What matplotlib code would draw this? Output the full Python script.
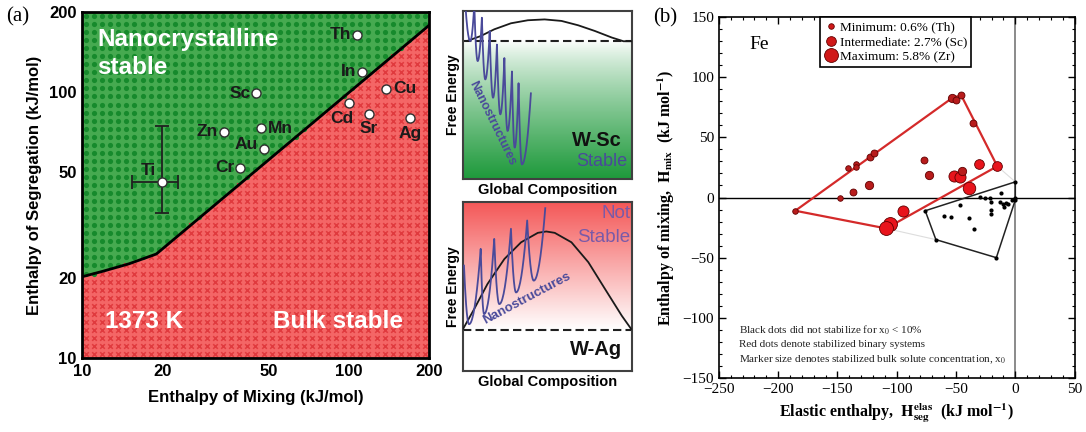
import numpy as np
import matplotlib.pyplot as plt
from matplotlib.colors import LinearSegmentedColormap
from matplotlib.lines import Line2D

plt.rcParams['mathtext.fontset'] = 'stix'

# -----------------------------
# DATA panel (a): W alloys, log-log map
# -----------------------------
elements = ['Th', 'In', 'Sc', 'Cu', 'Cd', 'Sr', 'Ag', 'Mn', 'Zn', 'Au', 'Cr', 'Ti']
h_mix = [107, 112, 45, 138, 100, 119, 170, 47, 34, 48, 39, 20]
h_seg = [164, 119, 99, 103, 91, 83, 80, 73, 71, 61, 52, 46]
# label offsets (points) and alignment
lab_dx = [-4, -4, -4, 5, -5, 0, 0, 5, -4, -4, -4, -10]
lab_dy = [0, 0, 0, 0, -11, -11, -11, 0, 0, 3, 0, 8]
lab_ha = ['right', 'right', 'right', 'left', 'center', 'center', 'center', 'left',
          'right', 'right', 'right', 'center']

ti_xerr = [[4.6], [2.9]]
ti_yerr = [[11], [28.5]]

# stability boundary at 1373 K
bound_x = [10, 12, 15, 19, 200]
bound_y = [20.2, 21.2, 22.6, 24.6, 178]

# -----------------------------
# DATA panel (b): Fe alloys
# -----------------------------
red_x = [-185.6, -147.8, -141.4, -134.5, -134.0, -136.7, -122.4, -119.3, -123.0,
         -76.8, -72.6, -53.0, -50.3, -45.6, -35.9, -30.9, -15.2, -51.7, -47.0,
         -45.0, -38.7, -94.5, -105.5, -109.0]
red_y = [-11.0, -0.8, 24.6, 28.0, 25.4, 4.7, 33.6, 36.9, 10.0,
         30.9, 19.0, 82.9, 80.7, 84.9, 62.2, 27.6, 26.0, 17.7, 17.1,
         21.8, 8.0, -11.0, -21.6, -25.7]
red_ms = [4, 4, 4, 4, 4, 5, 5, 5, 6,
          5, 6, 6, 5, 5, 5, 7, 7, 8, 8,
          6, 9, 8, 10, 10]

black_x = [-60.0, -54.4, -47.0, -38.7, -35.0, -29.8, -25.7, -21.5, -20.2, -20.7,
           -20.2, -11.9, -13.0, -10.5, -9.7, -7.7, -6.0, -2.8, -0.6,
           -76.0, 0.0, 0.0, -16.0, -67.0]
black_y = [-15.0, -15.8, -6.4, -17.4, -26.3, 0.6, -0.8, 0.0, -3.6, -10.5,
           -13.3, 3.9, -3.6, -5.0, -7.7, -4.4, -5.0, -2.2, -0.8,
           -11.0, 13.0, -2.0, -50.0, -35.0]

red_hull_x = [-185.6, -53.0, -45.6, -15.2, -109.0, -185.6]
red_hull_y = [-11.0, 82.9, 84.9, 26.0, -25.7, -11.0]
black_hull_x = [-76.0, 0.0, 0.0, -16.0, -67.0, -76.0]
black_hull_y = [-11.0, 13.0, -2.0, -50.0, -35.0, -11.0]

legend_labels = ['Minimum: 0.6% (Th)', 'Intermediate: 2.7% (Sc)', 'Maximum: 5.8% (Zr)']
legend_ms = [4, 7, 10]

# -----------------------------
# SCHEMATIC curves (normalised box coordinates)
# -----------------------------
sc_dash = 0.82
sc_hump_x = [0.026, 0.105, 0.185, 0.284, 0.384, 0.483, 0.583, 0.682, 0.781, 0.881, 0.950, 1.0]
sc_hump_y = [0.822, 0.851, 0.891, 0.927, 0.945, 0.950, 0.941, 0.915, 0.881, 0.842, 0.820, 0.820]
sc_peak_x = [0.014, 0.067, 0.112, 0.158, 0.201, 0.245, 0.290, 0.329, 0.402]
sc_peak_y = [1.04, 1.04, 0.96, 0.88, 0.80, 0.72, 0.64, 0.57, 0.51]
sc_min_x = [0.043, 0.087, 0.132, 0.178, 0.221, 0.264, 0.306, 0.349]
sc_min_y = [0.821, 0.702, 0.593, 0.484, 0.385, 0.286, 0.187, 0.087]

ag_dash = 0.242
ag_hump_x = [0, 0.066, 0.145, 0.245, 0.344, 0.443, 0.493, 0.543, 0.642, 0.742, 0.841, 0.940, 0.996]
ag_hump_y = [0.248, 0.366, 0.515, 0.663, 0.762, 0.818, 0.826, 0.818, 0.762, 0.644, 0.485, 0.327, 0.248]
ag_peak_x = [0.006, 0.105, 0.185, 0.284, 0.380, 0.487]
ag_peak_y = [0.624, 0.723, 0.782, 0.842, 0.891, 0.964]
ag_min_x = [0.036, 0.125, 0.215, 0.314, 0.419]
ag_min_y = [0.277, 0.337, 0.396, 0.465, 0.535]

# -----------------------------
# FIGURE
# -----------------------------
fig = plt.figure(figsize=(10.86, 4.32), dpi=100)
SANS = ['Liberation Sans', 'DejaVu Sans']
SERIF = ['Liberation Serif', 'DejaVu Serif']

# ---------- panel (a) ----------
ax = fig.add_axes([0.0755, 0.1713, 0.3195, 0.801])
ax.set_xscale('log')
ax.set_yscale('log')
ax.set_xlim(10, 200)
ax.set_ylim(10, 200)

lbx = np.log10(bound_x)
lby = np.log10(bound_y)
xx = np.logspace(1, np.log10(200), 300)
yb = 10 ** np.interp(np.log10(xx), lbx, lby)
ax.fill_between(xx, yb, 200, color='#46aa50', lw=0, zorder=0)
ax.fill_between(xx, 10, yb, color='#f46666', lw=0, zorder=0)

# background pattern: green dots above, red crosses below
n = 43
u = (np.arange(n) + 0.5) / n
U, V = np.meshgrid(u, u)
U, V = U.ravel(), V.ravel()
gx = 10 ** (1 + U * np.log10(20))
gy = 10 ** (1 + V * np.log10(20))
above = gy > 10 ** np.interp(np.log10(gx), lbx, lby)
ax.scatter(U[above], V[above], s=14, c='#168a2c', lw=0, transform=ax.transAxes, zorder=1)
ax.scatter(U[~above], V[~above], s=11, c='#e03a3e', marker='x', lw=1.1,
           transform=ax.transAxes, zorder=1)

ax.plot(bound_x, bound_y, color='black', lw=2, zorder=3)

ax.errorbar([h_mix[-1]], [h_seg[-1]], xerr=ti_xerr, yerr=ti_yerr, fmt='none',
            ecolor='#202020', elinewidth=1.3, capsize=5, capthick=1.3, zorder=4)
ax.plot(h_mix, h_seg, 'o', ms=6.5, mfc='white', mec='#303030', mew=1, zorder=5)
for el, x, y, dx, dy, ha in zip(elements, h_mix, h_seg, lab_dx, lab_dy, lab_ha):
    ax.annotate(el, (x, y), xytext=(dx, dy), textcoords='offset points', ha=ha,
                va='center', fontsize=12.5, fontweight='bold', color='#1a1a1a',
                family=SANS, zorder=6)

ax.text(0.043, 0.955, 'Nanocrystalline\nstable', transform=ax.transAxes, color='white',
        fontsize=17.5, fontweight='bold', family=SANS, va='top', linespacing=1.3)
ax.text(0.065, 0.105, '1373 K', transform=ax.transAxes, color='white',
        fontsize=17.5, fontweight='bold', family=SANS, va='center')
ax.text(0.55, 0.105, 'Bulk stable', transform=ax.transAxes, color='white',
        fontsize=17.5, fontweight='bold', family=SANS, va='center')

ticks = [10, 20, 50, 100, 200]
ax.set_xticks(ticks)
ax.set_xticklabels([str(t) for t in ticks])
ax.set_yticks(ticks)
ax.set_yticklabels([str(t) for t in ticks])
ax.minorticks_off()
ax.tick_params(length=0, pad=4)
for lab in ax.get_xticklabels() + ax.get_yticklabels():
    lab.set_fontweight('bold')
    lab.set_fontsize(12)
    lab.set_family(SANS)
for s in ax.spines.values():
    s.set_linewidth(2)
ax.set_xlabel('Enthalpy of Mixing (kJ/mol)', fontsize=12, fontweight='bold',
              family=SANS, labelpad=8)
ax.set_ylabel('Enthalpy of Segregation (kJ/mol)', fontsize=12, fontweight='bold',
              family=SANS, labelpad=5)
fig.text(0.006, 0.962, '(a)', fontsize=15, family=SERIF, va='center')


# ---------- schematic helpers ----------
def zigzag(px, py, mx, my):
    xs, ys = [], []
    t = np.linspace(0, 1, 20)
    for i in range(len(mx)):
        # left arm peak -> min, right arm min -> next peak
        xs += list(mx[i] + (px[i] - mx[i]) * t[::-1])
        ys += list(my[i] + (py[i] - my[i]) * t[::-1] ** 2)
        xs += list(mx[i] + (px[i + 1] - mx[i]) * t)
        ys += list(my[i] + (py[i + 1] - my[i]) * t ** 2)
    return xs, ys


def schematic(rect, grad, col, dash):
    a = fig.add_axes(rect)
    a.set_xlim(0, 1)
    a.set_ylim(0, 1)
    a.set_xticks([])
    a.set_yticks([])
    cmap = LinearSegmentedColormap.from_list('grad', ['white', col])
    a.imshow(grad[:, None], extent=(0, 1, 0, 1), origin='lower', aspect='auto',
             cmap=cmap, vmin=0, vmax=1, zorder=0)
    for s in a.spines.values():
        s.set_linewidth(1.5)
        s.set_color('#404040')
    a.axhline(dash, color='#202020', lw=1.5, ls=(0, (4, 2)), zorder=2)
    a.set_ylabel('Free Energy', fontsize=10, fontweight='bold', family=SANS, labelpad=2)
    a.set_xlabel('Global Composition', fontsize=10.5, fontweight='bold', family=SANS,
                 labelpad=3)
    return a


yy = np.linspace(0, 1, 256)

# W-Sc (stable)
g = np.clip((sc_dash - yy) / sc_dash, 0, 1) ** 0.8
a1 = schematic([0.4263, 0.5856, 0.1556, 0.3889], g, '#1f9a3c', sc_dash)
a1.plot(sc_hump_x, sc_hump_y, color='#1a1a1a', lw=1.3, zorder=3)
zx, zy = zigzag(sc_peak_x, sc_peak_y, sc_min_x, sc_min_y)
a1.plot(zx, zy, color='#4a4a9a', lw=1.3, zorder=4)
a1.text(0.17, 0.33, 'Nanostructures', rotation=-64, ha='center', va='center',
        fontsize=9, fontweight='bold', color='#4a4a9a', family=SANS, zorder=5)
a1.text(0.94, 0.23, 'W-Sc', ha='right', va='center', fontsize=14.5, fontweight='bold',
        color='#111111', family=SANS)
a1.text(0.97, 0.105, 'Stable', ha='right', va='center', fontsize=13,
        color='#4a4a9a', family=SANS)

# W-Ag (not stable)
g2 = np.clip((yy - ag_dash) / (1 - ag_dash), 0, 1)
a2 = schematic([0.4263, 0.1412, 0.1556, 0.391], g2, '#f45858', ag_dash)
a2.plot(ag_hump_x, ag_hump_y, color='#1a1a1a', lw=1.3, zorder=3)
zx, zy = zigzag(ag_peak_x, ag_peak_y, ag_min_x, ag_min_y)
a2.plot(zx, zy, color='#4a4a9a', lw=1.3, zorder=4)
a2.text(0.38, 0.43, 'Nanostructures', rotation=28, ha='center', va='center',
        fontsize=9.5, fontweight='bold', color='#4a4a9a', family=SANS, zorder=5)
a2.text(0.94, 0.13, 'W-Ag', ha='right', va='center', fontsize=14.5, fontweight='bold',
        color='#111111', family=SANS)
a2.text(0.99, 0.93, 'Not', ha='right', va='center', fontsize=13.5,
        color='#7a5aa8', family=SANS)
a2.text(0.99, 0.79, 'Stable', ha='right', va='center', fontsize=13.5,
        color='#7a5aa8', family=SANS)

# ---------- panel (b) ----------
bx = fig.add_axes([0.662, 0.125, 0.3275, 0.8356])
bx.set_xlim(-250, 50)
bx.set_ylim(-150, 150)
bx.axhline(0, color='black', lw=1, zorder=1)
bx.axvline(0, color='#777777', lw=1.2, zorder=1)
bx.plot([red_hull_x[3], 0.0], [red_hull_y[3], 13.0], color='#dddddd', lw=0.8, zorder=1)
bx.plot([red_hull_x[4], black_hull_x[4]], [red_hull_y[4], black_hull_y[4]],
        color='#dddddd', lw=0.8, zorder=1)
bx.plot(black_hull_x, black_hull_y, color='#222222', lw=1.1, zorder=2)
bx.plot(red_hull_x, red_hull_y, color='#d42a2a', lw=1.6, zorder=2)
bx.scatter(black_x, black_y, s=9, c='black', lw=0, zorder=3)
for x, y, m in zip(red_x, red_y, red_ms):
    col = '#b81c1c' if m < 7 else '#e8141c'
    bx.plot(x, y, 'o', ms=m, mfc=col, mec='#600000', mew=0.6, zorder=4)

handles = [Line2D([], [], ls='none', marker='o', ms=m, mfc='#d01818', mec='#600000',
                  mew=0.6) for m in legend_ms]
leg = bx.legend(handles, legend_labels, loc='upper center', bbox_to_anchor=(0.497, 1.018),
                frameon=True, fancybox=False, edgecolor='black', framealpha=1,
                handletextpad=0.2, borderpad=0.3, labelspacing=0.2, handlelength=1.0,
                prop={'family': SERIF, 'size': 9.5})
leg.get_frame().set_linewidth(1.2)
leg.set_zorder(10)

bx.text(-224, 127, 'Fe', fontsize=14, family=SERIF, va='center')
notes = ['Black dots did not stabilize for x$_0$ < 10%',
         'Red dots denote stabilized binary systems',
         'Marker size denotes stabilized bulk solute concentration, x$_0$']
for i, t in enumerate(notes):
    bx.text(-233, -110 - 12.3 * i, t, fontsize=8, family=SERIF, va='center',
            color='#222222')

bx.set_xticks(np.arange(-250, 51, 50))
bx.set_yticks(np.arange(-150, 151, 50))
bx.set_xticks(np.arange(-250, 51, 10), minor=True)
bx.set_yticks(np.arange(-150, 151, 10), minor=True)
bx.tick_params(which='both', direction='in', top=True, right=True)
bx.tick_params(which='major', length=5, width=1)
bx.tick_params(which='minor', length=2.5, width=0.8)
bx.tick_params(labelsize=11)
for lab in bx.get_xticklabels() + bx.get_yticklabels():
    lab.set_family(SERIF)
for s in bx.spines.values():
    s.set_linewidth(1.2)
bx.set_xlabel(r'Elastic enthalpy,  $\mathbf{H}_{\mathbf{seg}}^{\mathbf{elas}}$  (kJ mol$^{\mathbf{-1}}$)',
              fontsize=11.5, fontweight='bold', family=SERIF, labelpad=4)
bx.set_ylabel(r'Enthalpy of mixing,  $\mathbf{H}_{\mathbf{mix}}$  (kJ mol$^{\mathbf{-1}}$)',
              fontsize=11.5, fontweight='bold', family=SERIF, labelpad=4)
fig.text(0.601, 0.958, '(b)', fontsize=15, family=SERIF, va='center')

fig.savefig('out.png', dpi=100)
